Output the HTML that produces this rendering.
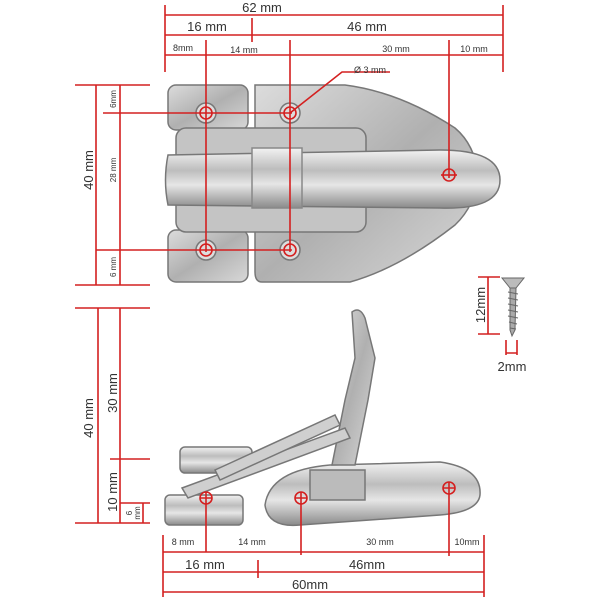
<!DOCTYPE html>
<html><head><meta charset="utf-8"><style>
html,body{margin:0;padding:0;background:#fff;width:600px;height:600px;overflow:hidden}
text{font-family:"Liberation Sans",sans-serif;fill:#333}
</style></head><body>
<svg width="600" height="600" viewBox="0 0 600 600" xmlns="http://www.w3.org/2000/svg">
<defs>
<linearGradient id="m" x1="0" y1="0" x2="0" y2="1">
<stop offset="0" stop-color="#f2f2f2"/><stop offset="0.35" stop-color="#bdbdbd"/><stop offset="0.6" stop-color="#e6e6e6"/><stop offset="1" stop-color="#8a8a8a"/></linearGradient>
<linearGradient id="m2" x1="0" y1="0" x2="1" y2="1">
<stop offset="0" stop-color="#dcdcdc"/><stop offset="0.5" stop-color="#b0b0b0"/><stop offset="1" stop-color="#d8d8d8"/></linearGradient>
</defs>
<g stroke="#777" stroke-width="1.5">
<rect x="168" y="85" width="80" height="45" rx="8" fill="url(#m2)"/>
<rect x="168" y="230" width="80" height="52" rx="8" fill="url(#m2)"/>
<path d="M255 85 L345 85 Q400 92 455 128 Q475 145 478 175 Q476 205 455 225 Q400 268 350 282 L262 282 Q255 282 255 272 Z" fill="url(#m2)"/>
<rect x="176" y="128" width="190" height="104" rx="10" fill="#c4c4c4"/>
<path d="M168 155 L440 150 Q500 150 500 180 Q500 210 440 208 L168 205 Q163 180 168 155 Z" fill="url(#m)"/>
<rect x="252" y="148" width="50" height="60" fill="url(#m)" stroke="#888"/>
<circle cx="206" cy="113" r="10" fill="#ddd"/><circle cx="290" cy="113" r="10" fill="#ddd"/>
<circle cx="206" cy="250" r="10" fill="#ddd"/><circle cx="290" cy="250" r="10" fill="#ddd"/>
</g>
<g stroke="#777" stroke-width="1.5">
<path d="M265 505 Q270 470 330 465 L440 462 Q482 468 480 495 Q478 512 440 515 L300 525 Q268 528 265 505 Z" fill="url(#m)"/>
<rect x="165" y="495" width="78" height="30" rx="5" fill="url(#m)"/>
<rect x="180" y="447" width="72" height="26" rx="5" fill="url(#m)"/>
<path d="M352 312 Q360 306 365 318 L375 358 L368 400 L355 465 L332 465 L345 400 L355 358 Z" fill="url(#m2)"/>
<path d="M182 488 L345 428 L350 438 L188 498 Z" fill="#cfcfcf"/>
<path d="M215 470 L335 415 L340 425 L220 480 Z" fill="#cfcfcf"/>
<rect x="310" y="470" width="55" height="30" fill="#bbb"/>
</g>
<g stroke="#666" stroke-width="1">
<path d="M502 278 L524 278 L516 288 L510 288 Z" fill="#bbb"/>
<path d="M510 288 L516 288 L515 330 L512 336 L510 330 Z" fill="#aaa"/>
<path d="M508 292 L518 294 M508 298 L518 300 M508 304 L518 306 M508 310 L518 312 M508 316 L518 318 M509 322 L517 324 M510 328 L516 329" fill="none"/>
</g>
<g stroke="#d42020" stroke-width="1.6" fill="none">
<path d="M165 15 H503 M165 35 H503 M165 55 H503 M165 5 V72 M503 5 V72 M252 18 V42"/>
<path d="M206 40 V252 M290 40 V252 M449 40 V178"/>
<path d="M103 113 H292 M96 250 H292"/>
<path d="M96 85 V285 M120 85 V285 M75 85 H150 M75 285 H150"/>
<path d="M290 113 L342 72 H390"/>
<circle cx="206" cy="113" r="6"/><circle cx="290" cy="113" r="6"/><circle cx="206" cy="250" r="6"/><circle cx="290" cy="250" r="6"/><circle cx="449" cy="175" r="6"/>
<path d="M441 175 H457"/>
<path d="M98 308 V523 M120 308 V523 M75 308 H150 M110 459 H150 M120 503 H150 M75 523 H150 M143 503 V523"/>
<path d="M163 552 H484 M163 572 H484 M163 592 H484 M163 535 V597 M484 535 V597 M258 560 V578"/>
<path d="M206 492 V552 M301 492 V555 M449 482 V556"/>
<circle cx="206" cy="498" r="6"/><circle cx="301" cy="498" r="6"/><circle cx="449" cy="488" r="6"/>
<path d="M200 498 H212 M295 498 H307 M443 488 H455"/>
<path d="M488 277 V334 M478 277 H500 M478 334 H500 M506 340 V355 M517 340 V355 M506 353 H517"/>
</g>
<g font-size="13">
<text x="262" y="12" text-anchor="middle">62 mm</text>
<text x="207" y="31" text-anchor="middle">16 mm</text>
<text x="367" y="31" text-anchor="middle">46 mm</text>
<text x="310" y="589" text-anchor="middle">60mm</text>
<text x="205" y="569" text-anchor="middle">16 mm</text>
<text x="367" y="569" text-anchor="middle">46mm</text>
<text x="512" y="371" text-anchor="middle">2mm</text>
</g>
<g font-size="9">
<text x="183" y="51" text-anchor="middle">8mm</text>
<text x="244" y="53" text-anchor="middle">14 mm</text>
<text x="396" y="52" text-anchor="middle">30 mm</text>
<text x="474" y="52" text-anchor="middle">10 mm</text>
<text x="370" y="73" text-anchor="middle">Ø 3 mm</text>
<text x="183" y="545" text-anchor="middle">8 mm</text>
<text x="252" y="545" text-anchor="middle">14 mm</text>
<text x="380" y="545" text-anchor="middle">30 mm</text>
<text x="467" y="545" text-anchor="middle">10mm</text>
</g>
<g font-size="13">
<text transform="translate(93,170) rotate(-90)" text-anchor="middle">40 mm</text>
<text transform="translate(93,418) rotate(-90)" text-anchor="middle">40 mm</text>
<text transform="translate(117,393) rotate(-90)" text-anchor="middle">30 mm</text>
<text transform="translate(117,492) rotate(-90)" text-anchor="middle">10 mm</text>
<text transform="translate(485,305) rotate(-90)" text-anchor="middle">12mm</text>
</g>
<g font-size="8">
<text transform="translate(116,170) rotate(-90)" text-anchor="middle">28 mm</text>
<text transform="translate(116,99) rotate(-90)" text-anchor="middle">6mm</text>
<text transform="translate(116,267) rotate(-90)" text-anchor="middle">6 mm</text>
<text transform="translate(132,513) rotate(-90)" text-anchor="middle">6</text>
<text transform="translate(140,513) rotate(-90)" text-anchor="middle">mm</text>
</g>
</svg>
</body></html>
